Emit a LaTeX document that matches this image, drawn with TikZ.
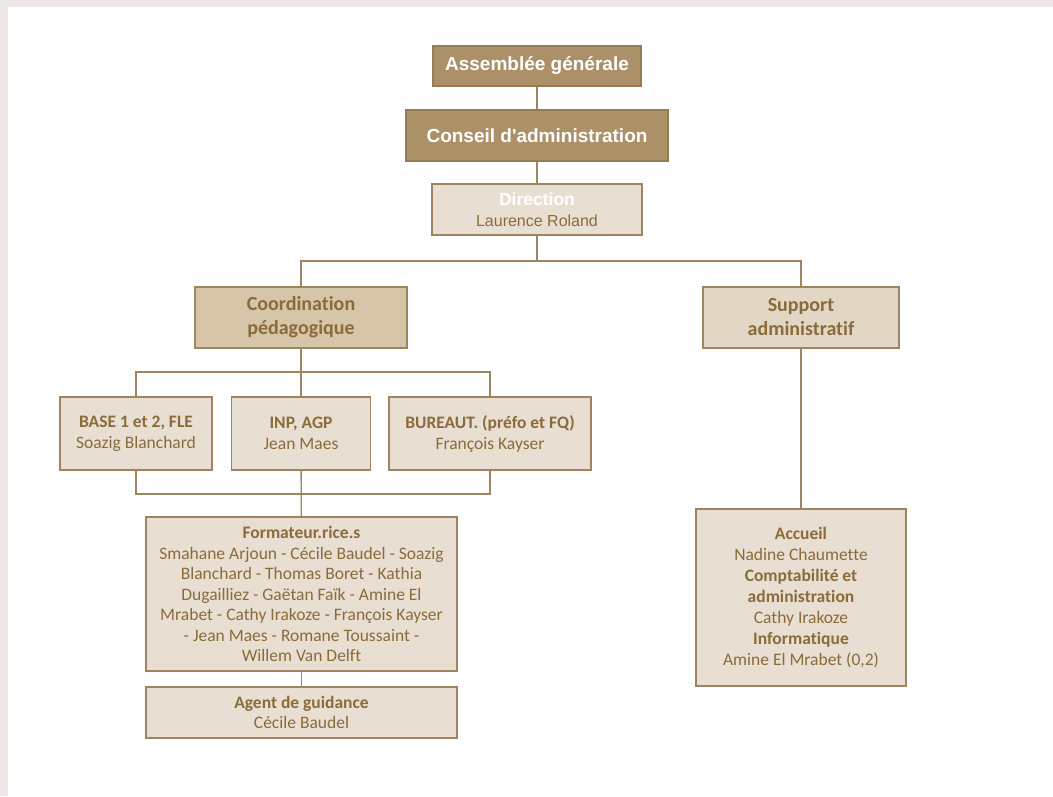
\documentclass[tikz,border=0pt]{standalone}
\usepackage{fontspec}
\setmainfont{Carlito}[Ligatures=NoCommon]
\newfontfamily\arialf{Liberation Sans}
\definecolor{bgpink}{RGB}{239,231,229}
\definecolor{darkfill}{RGB}{171,144,104}
\definecolor{darkedge}{RGB}{150,123,86}
\definecolor{midfill}{RGB}{214,197,168}
\definecolor{lightfill}{RGB}{232,223,210}
\definecolor{supfill}{RGB}{226,215,197}
\definecolor{edgec}{RGB}{158,132,97}
\definecolor{txtc}{RGB}{138,107,58}
\definecolor{linec}{RGB}{158,132,97}
\tikzset{
  topbox/.style={draw=darkedge, fill=darkfill, text=white, font=\arialf\bfseries\fontsize{19}{22}\selectfont, align=center, inner sep=0pt, line width=1.2pt},
  dirbox/.style={draw=edgec, fill=lightfill, text=txtc, font=\arialf\fontsize{16}{21}\selectfont, align=center, inner sep=0pt, line width=1.2pt},
  midbox/.style={draw=edgec, fill=midfill, text=txtc, font=\bfseries\fontsize{20}{24}\selectfont, align=center, inner sep=0pt, line width=1.2pt},
  subbox/.style={draw=edgec, fill=lightfill, text=txtc, font=\fontsize{17.5}{21}\selectfont, align=center, inner sep=0pt, line width=1.2pt},
  conn/.style={draw=linec, line width=1.3pt}
}
\begin{document}
\begin{tikzpicture}[x=1pt,y=-1pt]
\useasboundingbox (0,0) rectangle (1053,796);
\fill[white] (0,0) rectangle (1053,796);
\fill[bgpink] (0,0) rectangle (1053,7);
\fill[bgpink] (0,0) rectangle (8,796);

\node[topbox, minimum width=208pt, minimum height=40pt] (AG) at (537,66) {Assemblée générale};
\node[topbox, minimum width=262pt, minimum height=51pt] (CA) at (537,135.5) {Conseil d'administration};
\node[dirbox, minimum width=210pt, minimum height=51pt] (DIR) at (537,209.5)
  {\textcolor{white}{\bfseries\fontsize{17.5}{21}\selectfont Direction}\\
   Laurence Roland};

\node[midbox, minimum width=212pt, minimum height=61pt] (COORD) at (301,317.5) {Coordination\\pédagogique};
\node[midbox, fill=supfill, minimum width=196pt, minimum height=61pt] (SUP) at (801,317.5) {Support\\administratif};

\node[subbox, minimum width=152pt, minimum height=73pt] (BASE) at (136,433.5) {\textbf{BASE 1 et 2, FLE}\\Soazig Blanchard};
\node[subbox, minimum width=139pt, minimum height=73pt] (INP) at (301,433.5) {\textbf{INP, AGP}\\Jean Maes};
\node[subbox, minimum width=202pt, minimum height=73pt] (BUR) at (490,433.5) {\textbf{BUREAUT. (préfo et FQ)}\\François Kayser};

\node[subbox, font=\fontsize{17.5}{20.5}\selectfont, minimum width=311pt, minimum height=154pt] (FORM) at (301.5,594)
  {\textbf{Formateur.rice.s}\\
   Smahane Arjoun - Cécile Baudel - Soazig\\
   Blanchard - Thomas Boret - Kathia\\
   Dugailliez - Gaëtan Faïk - Amine El\\
   Mrabet - Cathy Irakoze - François Kayser\\
   - Jean Maes - Romane Toussaint -\\
   Willem Van Delft};
\node[subbox, font=\fontsize{17.5}{20.5}\selectfont, minimum width=311pt, minimum height=51pt] (AGENT) at (301.5,712.5)
  {\textbf{Agent de guidance}\\Cécile Baudel};

\node[subbox, minimum width=210pt, minimum height=177pt] (ACC) at (801,597.5)
  {\textbf{Accueil}\\
   Nadine Chaumette\\
   \textbf{Comptabilité et}\\
   \textbf{administration}\\
   Cathy Irakoze\\
   \textbf{Informatique}\\
   Amine El Mrabet (0,2)};

\coordinate (j1) at (537,261);
\coordinate (j2) at (301,372);
\coordinate (j3) at (301,494);

\draw[conn] (AG) -- (CA);
\draw[conn] (CA) -- (DIR);
\draw[conn] (DIR) -- (j1);
\draw[conn] (COORD.north) |- (j1) -| (SUP.north);
\draw[conn] (COORD) -- (INP);
\draw[conn] (BASE.north) |- (j2) -| (BUR.north);
\draw[conn] (BASE.south) |- (j3) -| (BUR.south);
\draw[conn] (INP) -- (FORM);
\draw[conn] (FORM) -- (AGENT);
\draw[conn] (SUP) -- (ACC);
\end{tikzpicture}
\end{document}
